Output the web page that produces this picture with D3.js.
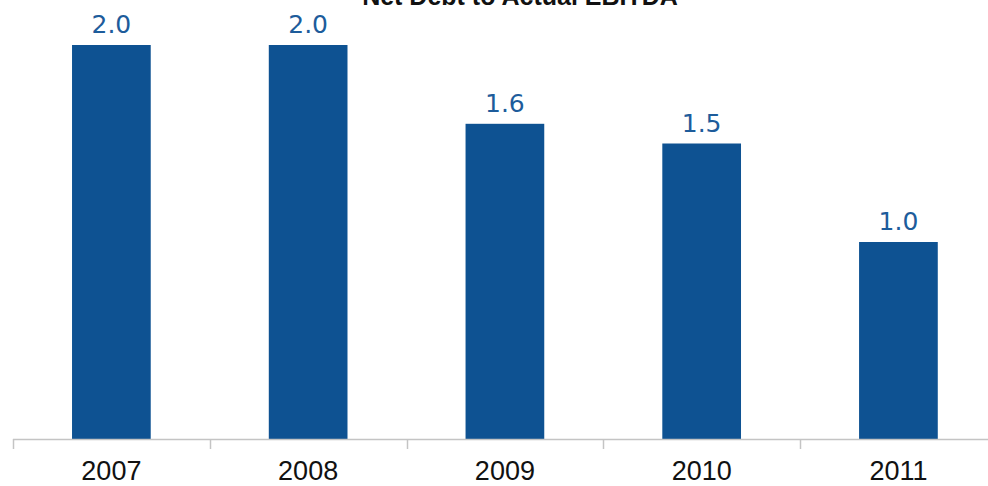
<!DOCTYPE html>
<html>
<head>
<meta charset="utf-8">
<script src="https://cdn.jsdelivr.net/npm/d3@7"></script>
<style>
  html, body { margin: 0; padding: 0; background: #ffffff; }
  svg { display: block; }
</style>
</head>
<body>
<svg id="chart" width="988" height="486"></svg>
<script>
// Net debt to actual EBITDA, by year
const years = ["2007", "2008", "2009", "2010", "2011"];
const ratios = [2.0, 2.0, 1.6, 1.5, 1.0];
const valueLabels = ["2.0", "2.0", "1.6", "1.5", "1.0"];
const chartTitle = "Net Debt to Actual EBITDA";

const svg = d3.select("#chart");
const width = 988, height = 486;
const baseY = 439;
const left = 13, right = 996.8;

const x = d3.scaleBand()
  .domain(years)
  .range([left, right])
  .paddingInner(0.6)
  .paddingOuter(0.3);

const y = d3.scaleLinear()
  .domain([0, 2.0])
  .range([baseY, 45]);

// title (sits at the very top edge)
svg.append("text")
  .attr("x", 520)
  .attr("y", 5)
  .attr("text-anchor", "middle")
  .attr("font-family", "Liberation Sans, Arial, sans-serif")
  .attr("font-weight", "bold")
  .attr("font-size", 25)
  .attr("fill", "#111111")
  .text(chartTitle);

// bars
svg.append("g")
  .selectAll("rect")
  .data(years)
  .join("rect")
  .attr("x", d => x(d))
  .attr("width", x.bandwidth())
  .attr("y", (d, i) => y(ratios[i]))
  .attr("height", (d, i) => baseY - y(ratios[i]))
  .attr("fill", "#0e5292");

// value labels
svg.append("g")
  .selectAll("text")
  .data(years)
  .join("text")
  .attr("x", d => x(d) + x.bandwidth() / 2)
  .attr("y", (d, i) => y(ratios[i]) - 12)
  .attr("text-anchor", "middle")
  .attr("font-family", "DejaVu Sans, Verdana, sans-serif")
  .attr("font-size", 25)
  .attr("fill", "#1d5c9b")
  .text((d, i) => valueLabels[i]);

// category axis: labels centred under bars, ticks on slot boundaries
const axis = svg.append("g")
  .attr("transform", `translate(0,${baseY})`)
  .call(d3.axisBottom(x).tickSize(0).tickPadding(22));
axis.select(".domain").remove();
axis.selectAll("text")
  .attr("font-family", "Liberation Sans, Arial, sans-serif")
  .attr("font-size", 27)
  .attr("fill", "#111111")
  .attr("dy", "0.71em");

const step = x.step();
const bounds = d3.range(years.length).map(i => left + i * step);
axis.append("line")
  .attr("x1", left).attr("x2", width)
  .attr("y1", 0.5).attr("y2", 0.5)
  .attr("stroke", "#c4c4c4")
  .attr("stroke-width", 1.5);
axis.selectAll("line.bound")
  .data(bounds)
  .join("line")
  .attr("class", "bound")
  .attr("x1", d => Math.round(d) + 0.5).attr("x2", d => Math.round(d) + 0.5)
  .attr("y1", 0).attr("y2", 10)
  .attr("stroke", "#c4c4c4")
  .attr("stroke-width", 1.5);
</script>
</body>
</html>
